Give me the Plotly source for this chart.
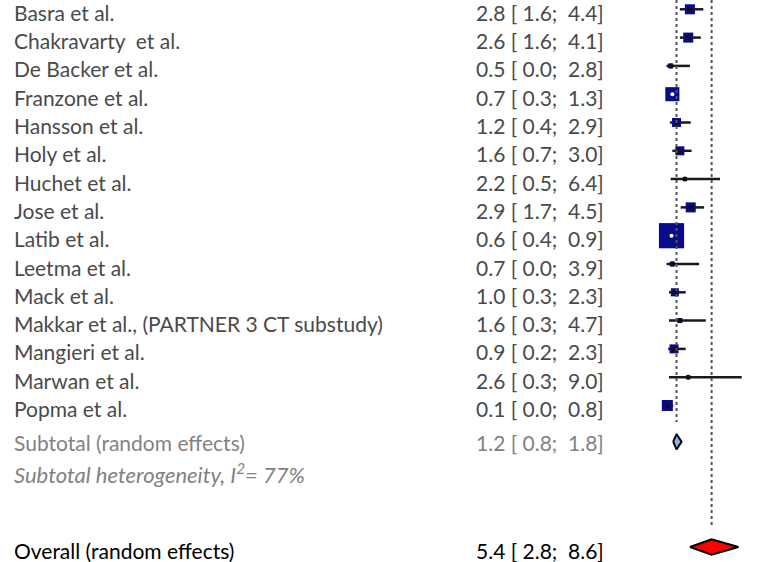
import plotly.graph_objects as go

# Study-level estimates with 95% confidence intervals
studies = [
    "Basra et al.", "Chakravarty  et al.", "De Backer et al.", "Franzone et al.",
    "Hansson et al.", "Holy et al.", "Huchet et al.", "Jose et al.", "Latib et al.",
    "Leetma et al.", "Mack et al.", "Makkar et al., (PARTNER 3 CT substudy)",
    "Mangieri et al.", "Marwan et al.", "Popma et al.",
]
est = [2.8, 2.6, 0.5, 0.7, 1.2, 1.6, 2.2, 2.9, 0.6, 0.7, 1.0, 1.6, 0.9, 2.6, 0.1]
ci_low = [1.6, 1.6, 0.0, 0.3, 0.4, 0.7, 0.5, 1.7, 0.4, 0.0, 0.3, 0.3, 0.2, 0.3, 0.0]
ci_high = [4.4, 4.1, 2.8, 1.3, 2.9, 3.0, 6.4, 4.5, 0.9, 3.9, 2.3, 4.7, 2.3, 9.0, 0.8]
weight = [6.3, 6.3, 1.6, 12.4, 5.1, 5.1, 1.0, 6.3, 39.6, 1.6, 4.1, 1.6, 5.1, 1.0, 7.6]

subtotal = (1.2, 0.8, 1.8)
overall = (5.4, 2.8, 8.6)
i2 = 77

# ---- layout geometry -------------------------------------------------------
W, H = 758, 562
PX_PER_UNIT = 8.36
ZERO_PX = 666.5
ROW_PX = 28.3
ROW0_PX = 9.3

x_range = [-ZERO_PX / PX_PER_UNIT, (W - ZERO_PX) / PX_PER_UNIT]
y_range = [(H - ROW0_PX) / ROW_PX, -ROW0_PX / ROW_PX]

rows = list(range(len(studies)))
row_sub = 15.28
row_het = 16.35
row_overall = 19.0

NAVY = "#0a0a8c"
STUDY_TXT = "#4a4a4a"
SUB_TXT = "#828282"
FONT = "Lato"
FS = 21

fig = go.Figure()

# reference lines at the pooled estimates
fig.add_shape(type="line", xref="x", yref="y", x0=subtotal[0], x1=subtotal[0],
              y0=y_range[1], y1=14.58, line=dict(color="#555555", width=2, dash="dot"))
fig.add_shape(type="line", xref="x", yref="y", x0=overall[0], x1=overall[0],
              y0=y_range[1], y1=18.29, line=dict(color="#555555", width=2, dash="dot"))

# confidence interval whiskers
cx, cy = [], []
for r, l, h in zip(rows, ci_low, ci_high):
    cx += [l, h, None]
    cy += [r, r, None]
fig.add_trace(go.Scatter(x=cx, y=cy, mode="lines",
                         line=dict(color="#1a1a1a", width=2.5), hoverinfo="skip"))

# weight squares (area proportional to weight)
sizes = [4.0 * w ** 0.5 for w in weight]
fig.add_trace(go.Scatter(x=est, y=rows, mode="markers",
                         marker=dict(symbol="square", size=sizes, color=NAVY, opacity=1,
                                     line=dict(width=0)), hoverinfo="skip"))

# point estimate dots: white when the interval sits inside the square
dark_x, dark_y, light_x, light_y = [], [], [], []
for e, l, h, r, s in zip(est, ci_low, ci_high, rows, sizes):
    half = s / 2 / PX_PER_UNIT
    if l >= e - half and h <= e + half:
        light_x.append(e)
        light_y.append(r)
    else:
        dark_x.append(e)
        dark_y.append(r)
fig.add_trace(go.Scatter(x=dark_x, y=dark_y, mode="markers",
                         marker=dict(symbol="circle", size=5, color="#111111", opacity=1),
                         hoverinfo="skip"))
fig.add_trace(go.Scatter(x=light_x, y=light_y, mode="markers",
                         marker=dict(symbol="circle", size=4, color="white", opacity=1),
                         hoverinfo="skip"))


def diamond(center, low, high, row, half_h, fill):
    return go.Scatter(
        x=[low, center, high, center, low],
        y=[row, row - half_h, row, row + half_h, row],
        mode="lines", fill="toself", fillcolor=fill,
        line=dict(color="black", width=2), hoverinfo="skip")


fig.add_trace(diamond(subtotal[0], subtotal[1], subtotal[2], row_sub, 0.27, "#8fb3e0"))
fig.add_trace(diamond(overall[0], overall[1], overall[2], row_overall, 0.27, "#ff0000"))


def fmt(e, l, h):
    nb = "\u00a0"
    return f"{e:.1f}{nb}[{nb}{l:.1f};{nb}{nb}{h:.1f}]"


def label(x, y, text, anchor, color, shift, size=FS):
    return dict(x=x / W, y=y, xref="paper", yref="y", text=text,
                xanchor=anchor, yanchor="middle", showarrow=False, yshift=shift,
                font=dict(family=FONT, size=size, color=color))


ann = []
TXT_SHIFT = -3
for name, e, l, h, r in zip(studies, est, ci_low, ci_high, rows):
    ann.append(label(12, r, name.replace("  ", "\u00a0 "), "left", STUDY_TXT, TXT_SHIFT))
    ann.append(label(606, r, fmt(e, l, h), "right", STUDY_TXT, TXT_SHIFT))

ann.append(label(12, row_sub, "Subtotal (random effects)", "left", SUB_TXT, -1))
ann.append(label(606, row_sub, fmt(*subtotal), "right", SUB_TXT, -1))
ann.append(label(12, row_het, f"<i>Subtotal heterogeneity, I<sup>2</sup>= {i2}%</i>",
                 "left", SUB_TXT, -1, size=22))
ann.append(label(12, row_overall, "Overall (random effects)", "left", "#000000", TXT_SHIFT))
ann.append(label(606, row_overall, fmt(*overall), "right", "#000000", TXT_SHIFT))

fig.update_layout(
    width=W, height=H,
    margin=dict(l=0, r=0, t=0, b=0),
    paper_bgcolor="white", plot_bgcolor="white",
    showlegend=False,
    annotations=ann,
    xaxis=dict(range=x_range, visible=False, fixedrange=True),
    yaxis=dict(range=y_range, visible=False, fixedrange=True),
)

fig.write_html("out.html")
